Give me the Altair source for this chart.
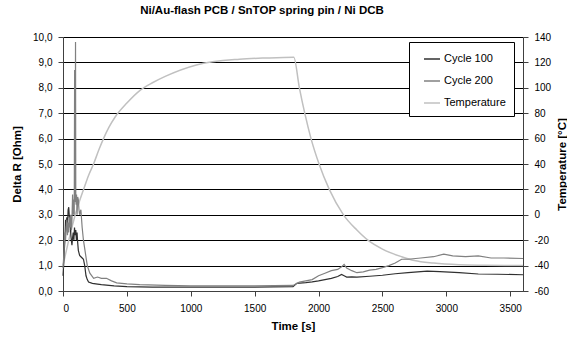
import altair as alt
import pandas as pd

# ---- data ----
c100_t = [0, 5, 10, 15, 20, 25, 30, 35, 40, 45, 50, 55, 60, 65, 70, 75, 80, 85, 90, 95, 100, 105,
          110, 115, 120, 125, 130, 140, 150, 160, 170, 180, 190, 200, 230, 270, 300, 400, 500, 700,
          1000, 1300, 1500, 1800, 1830, 1900, 1950, 2000, 2050, 2100, 2150, 2180, 2200, 2220, 2260,
          2300, 2400, 2500, 2600, 2700, 2850, 2950, 3100, 3250, 3400, 3600]
c100_v = [0.6, 1.0, 1.6, 2.0, 2.8, 2.6, 2.9, 2.5, 3.2, 3.3, 2.9, 2.8, 2.3, 2.0, 1.8, 2.1, 2.3, 2.0, 2.5, 2.2, 2.4, 2.0,
          2.3, 1.9, 1.6, 1.5, 1.4, 1.35, 1.3, 1.25, 1.0, 0.6, 0.45, 0.35, 0.3, 0.27, 0.25, 0.2, 0.17, 0.15,
          0.15, 0.15, 0.15, 0.17, 0.3, 0.33, 0.36, 0.4, 0.45, 0.5, 0.57, 0.65, 0.6, 0.55, 0.56,
          0.55, 0.58, 0.62, 0.68, 0.72, 0.78, 0.76, 0.72, 0.67, 0.66, 0.64]

c200_t = [0, 5, 10, 15, 20, 25, 30, 35, 40, 45, 50, 55, 60, 65, 70, 75, 80, 85, 88, 91, 93, 95, 98, 100,
          103, 106, 110, 115, 120, 125, 130, 140, 150, 160, 175, 190, 210, 240, 270, 300, 340, 380, 420,
          500, 600, 800, 1000, 1200, 1500, 1800, 1850, 1900, 1950, 2000, 2050, 2100, 2150, 2180, 2200,
          2220, 2260, 2300, 2350, 2400, 2450, 2500, 2550, 2600, 2650, 2700, 2800, 2900, 2980, 3050,
          3150, 3250, 3350, 3450, 3600]
c200_v = [0.9, 1.3, 1.8, 2.3, 2.0, 2.5, 2.8, 2.2, 2.7, 2.3, 2.9, 2.5, 3.0, 2.4, 2.8, 3.8, 3.0, 3.6, 3.0, 8.7, 4.0, 3.5, 9.8, 3.6,
          3.4, 3.8, 3.0, 3.7, 3.6, 3.2, 3.0, 3.2, 2.5, 2.0, 1.5, 1.0, 0.7, 0.5, 0.55, 0.5, 0.5, 0.4, 0.32,
          0.28, 0.25, 0.22, 0.2, 0.2, 0.2, 0.22, 0.35, 0.4, 0.45, 0.6, 0.7, 0.8, 0.85, 0.95, 1.05,
          0.9, 0.8, 0.72, 0.75, 0.82, 0.85, 0.92, 1.0, 1.1, 1.25, 1.25, 1.3, 1.35, 1.45, 1.38,
          1.35, 1.38, 1.3, 1.3, 1.28]

temp_t = [0, 50, 96, 130, 161, 200, 239, 280, 317, 360, 408, 500, 603, 700, 800, 1044, 1382, 1600, 1806,
          1850, 1892, 1941, 2004, 2084, 2195, 2300, 2386, 2500, 2650, 2750, 2900, 3100, 3300, 3600]
temp_v = [-40, -18, 0, 11, 20, 31, 40, 51, 60, 69, 77, 88, 98, 104, 109, 118, 122.5, 123.5, 124,
          100, 80, 60, 40, 20, 0, -12, -20, -27, -33, -36, -38, -39.3, -39.7, -40]

series_names = ["Cycle 100", "Cycle 200", "Temperature"]
series_colors = ["#303030", "#808080", "#c0c0c0"]

res_df = pd.concat([
    pd.DataFrame({"t": c100_t, "v": c100_v, "series": "Cycle 100"}),
    pd.DataFrame({"t": c200_t, "v": c200_v, "series": "Cycle 200"}),
])
temp_df = pd.DataFrame({"t": temp_t, "T": temp_v, "series": "Temperature"})

FONT = "Liberation Sans"

color = alt.Color(
    "series:N",
    scale=alt.Scale(domain=series_names, range=series_colors),
    legend=alt.Legend(
        title=None, orient="none", legendX=346, legendY=5,
        strokeColor="black", fillColor="white", padding=8,
        symbolType="stroke", symbolSize=256, symbolStrokeWidth=1.5, symbolOffset=6,
        labelFontSize=11, labelFont=FONT, labelColor="black", labelOffset=3,
        rowPadding=8,
    ),
)

x = alt.X(
    "t:Q",
    scale=alt.Scale(domain=[0, 3600], nice=False),
    axis=alt.Axis(title="Time [s]", values=[0, 500, 1000, 1500, 2000, 2500, 3000, 3500],
                  format="d", grid=False, labelPadding=7, titlePadding=7),
)

temp_layer = alt.Chart(temp_df).mark_line(strokeWidth=1.5, interpolate="monotone").encode(
    x=x,
    y=alt.Y("T:Q", scale=alt.Scale(domain=[-60, 140], nice=False),
            axis=alt.Axis(title="Temperature [°C]", orient="right",
                          values=list(range(-60, 141, 20)), grid=False,
                          labelExpr="'' + datum.value",
                          titleAngle=270, titlePadding=17, labelPadding=6)),
    color=color,
)

res_layer = alt.Chart(res_df).mark_line(strokeWidth=1.2).encode(
    x=x,
    y=alt.Y("v:Q", scale=alt.Scale(domain=[0, 10], nice=False),
            axis=alt.Axis(title="Delta R [Ohm]", orient="left",
                          values=list(range(0, 11)), grid=True, gridColor="black",
                          gridOpacity=1, gridWidth=1,
                          labelExpr="replace(format(datum.value, '.1f'), '.', ',')",
                          titlePadding=10, labelPadding=6)),
    color=color,
)

chart = alt.layer(temp_layer, res_layer).resolve_scale(y="independent").properties(
    width=460, height=254,
    padding={"left": 63, "top": 37, "right": 44, "bottom": 52},
    autosize=alt.AutoSizeParams(type="none"),
    title=alt.TitleParams("Ni/Au-flash PCB / SnTOP spring pin / Ni DCB", fontSize=11.5,
                          fontWeight="bold", font=FONT, color="black", offset=16, dx=-31),
).configure_axis(
    labelFont=FONT, titleFont=FONT, labelFontSize=10, titleFontSize=11.5,
    titleFontWeight="bold", labelColor="black", titleColor="black",
    domainColor="#404040", tickColor="#404040", tickSize=5,
).configure_view(stroke=None)

chart.save("out.html", embed_options={"renderer": "svg", "actions": False})
